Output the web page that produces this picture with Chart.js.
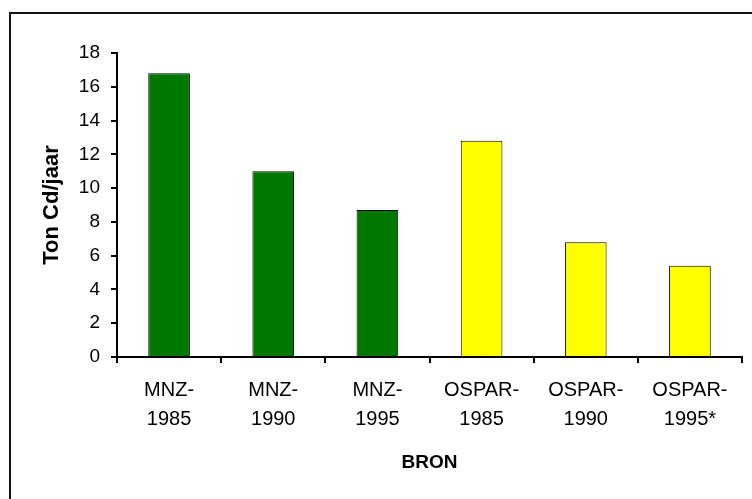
<!DOCTYPE html>
<html>
<head>
<meta charset="utf-8">
<script src="https://cdn.jsdelivr.net/npm/chart.js@4/dist/chart.umd.min.js"></script>
<style>
  html, body { margin: 0; padding: 0; background: #fff; }
  canvas { display: block; }
</style>
</head>
<body>
<canvas id="chart" width="752" height="499"></canvas>
<script>
// Cd load per source (ton/jaar)
const categories = ['MNZ-1985', 'MNZ-1990', 'MNZ-1995', 'OSPAR-1985', 'OSPAR-1990', 'OSPAR-1995*'];
const values = [16.8, 11.0, 8.7, 12.8, 6.8, 5.4];
const yTicks = [0, 2, 4, 6, 8, 10, 12, 14, 16, 18];

const GREEN = '#007800';
const YELLOW = '#FFFF00';
const FONT = 'Arial, "Liberation Sans", sans-serif';

// frame around the whole chart (cut off at right/bottom like the source image)
const frame = {
    id: 'frame',
    afterDraw(chart) {
        const ctx = chart.ctx;
        ctx.save();
        ctx.strokeStyle = '#111';
        ctx.lineWidth = 2;
        ctx.strokeRect(10, 13, 800, 600);
        ctx.restore();
    }
};

new Chart(document.getElementById('chart'), {
    type: 'bar',
    data: {
        labels: categories,
        datasets: [{
            data: values,
            backgroundColor: categories.map(c => c.startsWith('MNZ') ? GREEN : YELLOW),
            borderColor: '#000',
            borderWidth: 1,
            categoryPercentage: 1,
            barPercentage: 0.4
        }]
    },
    options: {
        responsive: false,
        animation: false,
        layout: { padding: { left: 41, right: 10, top: 53, bottom: 0 } },
        plugins: {
            legend: { display: false },
            tooltip: { enabled: false }
        },
        scales: {
            x: {
                afterFit: (scale) => { scale.height = 142; },
                grid: { drawOnChartArea: false, drawTicks: true, tickLength: 6, color: '#000', lineWidth: 2 },
                border: { color: '#000', width: 2 },
                ticks: {
                    color: '#000',
                    padding: 13,
                    maxRotation: 0,
                    font: { family: FONT, size: 20, lineHeight: 1.45 },
                    callback: function (value) {
                        const lab = this.getLabelForValue(value);
                        const i = lab.indexOf('-');
                        return [lab.slice(0, i + 1), lab.slice(i + 1)];
                    }
                },
                title: {
                    display: true,
                    text: 'BRON',
                    color: '#000',
                    padding: { top: 0, bottom: 27 },
                    font: { family: FONT, size: 19, weight: 'bold', lineHeight: 1 }
                }
            },
            y: {
                min: 0,
                max: 18,
                afterFit: (scale) => { scale.width = 76; },
                afterBuildTicks: (scale) => { scale.ticks = yTicks.map(v => ({ value: v })); },
                grid: { drawOnChartArea: false, drawTicks: true, tickLength: 6, color: '#000', lineWidth: 2 },
                border: { color: '#000', width: 2 },
                ticks: {
                    color: '#000',
                    padding: 11,
                    font: { family: FONT, size: 19 }
                },
                title: {
                    display: true,
                    text: 'Ton Cd/jaar',
                    color: '#000',
                    padding: { top: 0, bottom: 0 },
                    font: { family: FONT, size: 22, weight: 'bold', lineHeight: 1 }
                }
            }
        }
    },
    plugins: [frame]
});
</script>
</body>
</html>
